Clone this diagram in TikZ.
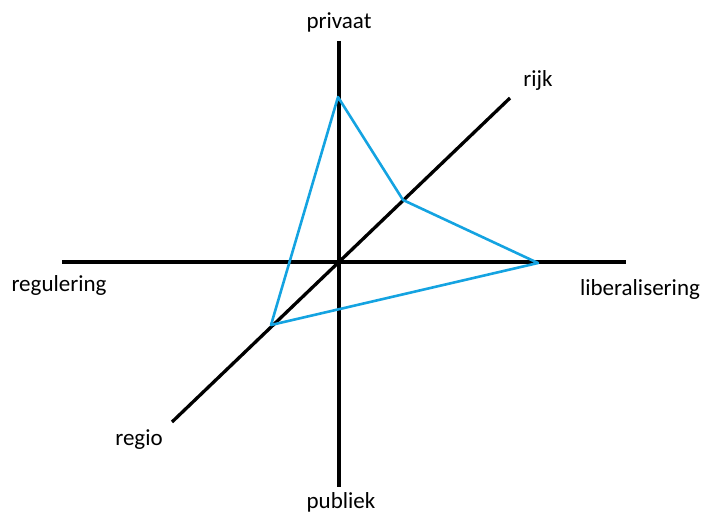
\documentclass[tikz,border=0pt]{standalone}
\usepackage{fontspec}
\setmainfont{Carlito}
\definecolor{skyblue}{RGB}{20,163,225}
\begin{document}
\begin{tikzpicture}[x=1pt,y=-1pt,
  axis/.style={line width=3.3pt,black},
  bluepoly/.style={line width=2.6pt,skyblue,line join=round},
  lbl/.style={font=\fontsize{23}{25}\selectfont,inner sep=0pt}]
\useasboundingbox (0,0) rectangle (707,513);
\coordinate (vt) at (339,41);
\coordinate (vb) at (339,487);
\coordinate (hl) at (62,262);
\coordinate (hr) at (626,262);
\coordinate (dl) at (172,422);
\coordinate (dr) at (510,98);
\draw[axis] (vt) -- (vb);
\draw[axis] (hl) -- (hr);
\draw[axis] (dl) -- (dr);
\coordinate (p1) at (338,97);
\coordinate (p2) at (403,200);
\coordinate (p3) at (538,263);
\coordinate (p4) at (271,325);
\draw[bluepoly] (p1) -- (p2) -- (p3) -- (p4) -- cycle;
\node[lbl] (privaat) at (339,22) {privaat};
\node[lbl] (publiek) at (341,502) {publiek};
\node[lbl] (regulering) at (59,285) {regulering};
\node[lbl] (liberalisering) at (640,289) {liberalisering};
\node[lbl] (rijk) at (538,80) {rijk};
\node[lbl] (regio) at (139,440) {regio};
\end{tikzpicture}
\end{document}
